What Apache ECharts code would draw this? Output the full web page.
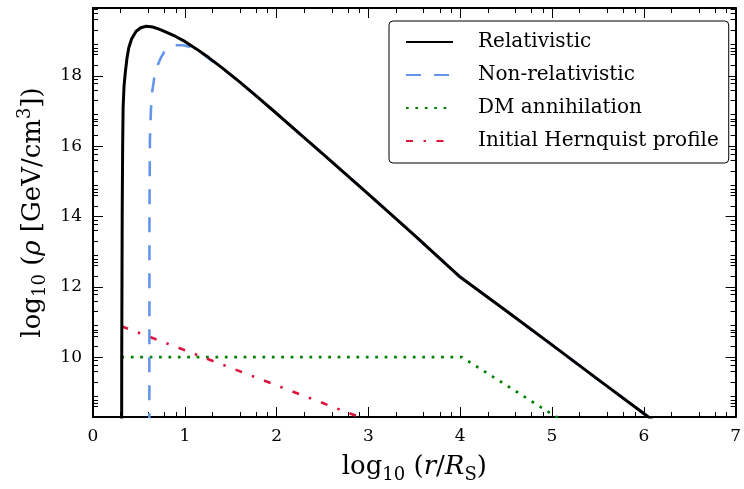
<!DOCTYPE html>
<html><head><meta charset="utf-8">
<script src="https://cdn.jsdelivr.net/npm/echarts@6/dist/echarts.min.js"></script>
<style>html,body{margin:0;padding:0;background:#fff}#c{width:744px;height:489px}</style>
</head><body><div id="c"></div>
<script>
const seriesNames = ['Relativistic', 'Non-relativistic', 'DM annihilation', 'Initial Hernquist profile'];

const relX = [0.31, 0.313, 0.318, 0.323, 0.328, 0.338, 0.352, 0.37, 0.39, 0.42, 0.47, 0.52, 0.58, 0.65, 0.72, 0.79, 0.9, 1.0, 1.13, 1.26, 1.4, 1.6, 1.8, 2.0, 2.25, 2.5, 3.0, 3.5, 4.0, 4.5, 5.0, 5.5, 6.0, 6.2];
const relY = [4.0, 10.0, 14.0, 16.0, 17.1, 17.7, 18.1, 18.5, 18.8, 19.05, 19.27, 19.37, 19.41, 19.39, 19.33, 19.25, 19.12, 18.98, 18.76, 18.52, 18.24, 17.82, 17.38, 16.93, 16.36, 15.79, 14.64, 13.47, 12.28, 11.32, 10.35, 9.37, 8.4, 8.0];

const nonX = [0.613, 0.615, 0.62, 0.632, 0.645, 0.668, 0.7, 0.74, 0.776, 0.83, 0.9, 0.98, 1.05, 1.12, 1.2, 1.3, 1.4, 1.6, 1.8, 2.0, 2.25, 2.5, 3.0, 3.5, 4.0, 4.5, 5.0, 5.5, 6.0, 6.2];
const nonY = [4.0, 14.0, 16.2, 17.1, 17.55, 17.95, 18.28, 18.52, 18.68, 18.8, 18.87, 18.87, 18.83, 18.75, 18.62, 18.42, 18.24, 17.82, 17.38, 16.93, 16.36, 15.79, 14.64, 13.47, 12.28, 11.32, 10.35, 9.37, 8.4, 8.0];

const dmX = [0.31, 4.02, 5.0, 5.15];
const dmY = [10.0, 10.0, 8.38, 8.14];

const hqX = [0.31, 1.0, 2.0, 3.0];
const hqY = [10.88, 10.2, 9.2, 8.2];

const xTicks = [0, 1, 2, 3, 4, 5, 6, 7];
const yTicks = [10, 12, 14, 16, 18];
const minorOffsetsX = [0.301, 0.602, 0.778, 0.903];
const minorOffsetsYEven = [0.301, 0.602, 0.699, 0.778, 0.903];
const minorOffsetsYOdd = [0.301, 0.602, 0.778, 0.903];

const X_MIN = 0, X_MAX = 7, Y_MIN = 8.3, Y_MAX = 19.93;
const FONT = 'DejaVu Serif';

function pairs(xs, ys) { return xs.map((x, i) => [x, ys[i]]); }

const xMinor = [];
for (let n = 0; n < 7; n++) minorOffsetsX.forEach(o => xMinor.push(+(n + o).toFixed(3)));
const yMinor = [];
for (let n = 8; n < 20; n++) (n % 2 === 0 ? minorOffsetsYEven : minorOffsetsYOdd).forEach(o => { const v = +(n + o).toFixed(3); if (v > Y_MIN && v < Y_MAX) yMinor.push(v); });

const rich = {
  a: { fontFamily: FONT, fontSize: 26, color: '#000', verticalAlign: 'middle' },
  i: { fontFamily: FONT, fontSize: 26, fontStyle: 'italic', color: '#000', verticalAlign: 'middle' },
  s: { fontFamily: FONT, fontSize: 18, color: '#000', padding: [15, 0, 0, 0], verticalAlign: 'middle' },
  p: { fontFamily: FONT, fontSize: 18, color: '#000', padding: [0, 0, 15, 0], verticalAlign: 'middle' }
};

function baseAxis(extra) {
  return Object.assign({
    type: 'value', splitLine: { show: false },
    axisLine: { show: false, onZero: false },
    axisLabel: { show: false },
  }, extra);
}

const xAxes = [
  baseAxis({ min: X_MIN, max: X_MAX, position: 'bottom',
    axisLine: { show: true, onZero: false, lineStyle: { color: '#000', width: 2 } },
    axisTick: { show: true, inside: true, length: 10, customValues: xTicks, lineStyle: { color: '#000', width: 1 } },
    axisLabel: { show: true, customValues: xTicks, fontFamily: FONT, fontSize: 17, color: '#000', margin: 11 },
    name: '{a|log}{s|10}{a| (}{i|r}{a|/}{i|R}{s|S}{a|)}', nameLocation: 'middle', nameGap: 34,
    nameTextStyle: { rich: rich }
  }),
  baseAxis({ min: X_MIN, max: X_MAX, position: 'bottom',
    axisTick: { show: true, inside: true, length: 5, customValues: xMinor, lineStyle: { color: '#000', width: 1 } } }),
  baseAxis({ min: X_MIN, max: X_MAX, position: 'top',
    axisLine: { show: true, onZero: false, lineStyle: { color: '#000', width: 2 } },
    axisTick: { show: true, inside: true, length: 10, customValues: xTicks, lineStyle: { color: '#000', width: 1 } } }),
  baseAxis({ min: X_MIN, max: X_MAX, position: 'top',
    axisTick: { show: true, inside: true, length: 5, customValues: xMinor, lineStyle: { color: '#000', width: 1 } } })
];

const yAxes = [
  baseAxis({ min: Y_MIN, max: Y_MAX, position: 'left',
    axisLine: { show: true, onZero: false, lineStyle: { color: '#000', width: 2 } },
    axisTick: { show: true, inside: true, length: 10, customValues: yTicks, lineStyle: { color: '#000', width: 1 } },
    axisLabel: { show: true, customValues: yTicks, fontFamily: FONT, fontSize: 17, color: '#000', margin: 11 },
    name: '{a|log}{s|10}{a| (}{i|ρ}{a| [GeV/cm}{p|3}{a|])}', nameLocation: 'middle', nameGap: 43, nameRotate: 90,
    nameTextStyle: { rich: rich }
  }),
  baseAxis({ min: Y_MIN, max: Y_MAX, position: 'left',
    axisTick: { show: true, inside: true, length: 5, customValues: yMinor, lineStyle: { color: '#000', width: 1 } } }),
  baseAxis({ min: Y_MIN, max: Y_MAX, position: 'right',
    axisLine: { show: true, onZero: false, lineStyle: { color: '#000', width: 2 } },
    axisTick: { show: true, inside: true, length: 10, customValues: yTicks, lineStyle: { color: '#000', width: 1 } } }),
  baseAxis({ min: Y_MIN, max: Y_MAX, position: 'right',
    axisTick: { show: true, inside: true, length: 5, customValues: yMinor, lineStyle: { color: '#000', width: 1 } } })
];

const chart = echarts.init(document.getElementById('c'), null, { renderer: 'canvas' });
chart.setOption({
  animation: false,
  backgroundColor: '#fff',
  grid: { left: 93, right: 4, top: 8, bottom: 69, containLabel: false },
  xAxis: xAxes,
  yAxis: yAxes,
  legend: {
    data: seriesNames, orient: 'vertical', left: 389, top: 21,
    backgroundColor: '#fff', borderColor: '#000', borderWidth: 1, borderRadius: 4,
    padding: [11, 10, 12, 16], itemWidth: 47, itemHeight: 20, itemGap: 13,
    itemStyle: { opacity: 0 },
    textStyle: { fontFamily: FONT, fontSize: 20, color: '#000', padding: [0, 0, 0, 20] }
  },
  series: [
    { name: seriesNames[0], type: 'line', data: pairs(relX, relY), symbol: 'none', z: 5,
      lineStyle: { color: '#000', width: 3 }, itemStyle: { color: '#000' } },
    { name: seriesNames[1], type: 'line', data: pairs(nonX, nonY), symbol: 'none', z: 4,
      lineStyle: { color: '#6495ED', width: 2.6, type: [15, 13] }, itemStyle: { color: '#6495ED' } },
    { name: seriesNames[2], type: 'line', data: pairs(dmX, dmY), symbol: 'none', z: 3,
      lineStyle: { color: '#008000', width: 2.7, type: [2.7, 6.7] }, itemStyle: { color: '#008000' } },
    { name: seriesNames[3], type: 'line', data: pairs(hqX, hqY), symbol: 'none', z: 3,
      lineStyle: { color: '#DC143C', width: 2.6, type: [7, 10.5, 2.5, 10.5] }, itemStyle: { color: '#DC143C' } }
  ]
});
</script>
</body></html>
